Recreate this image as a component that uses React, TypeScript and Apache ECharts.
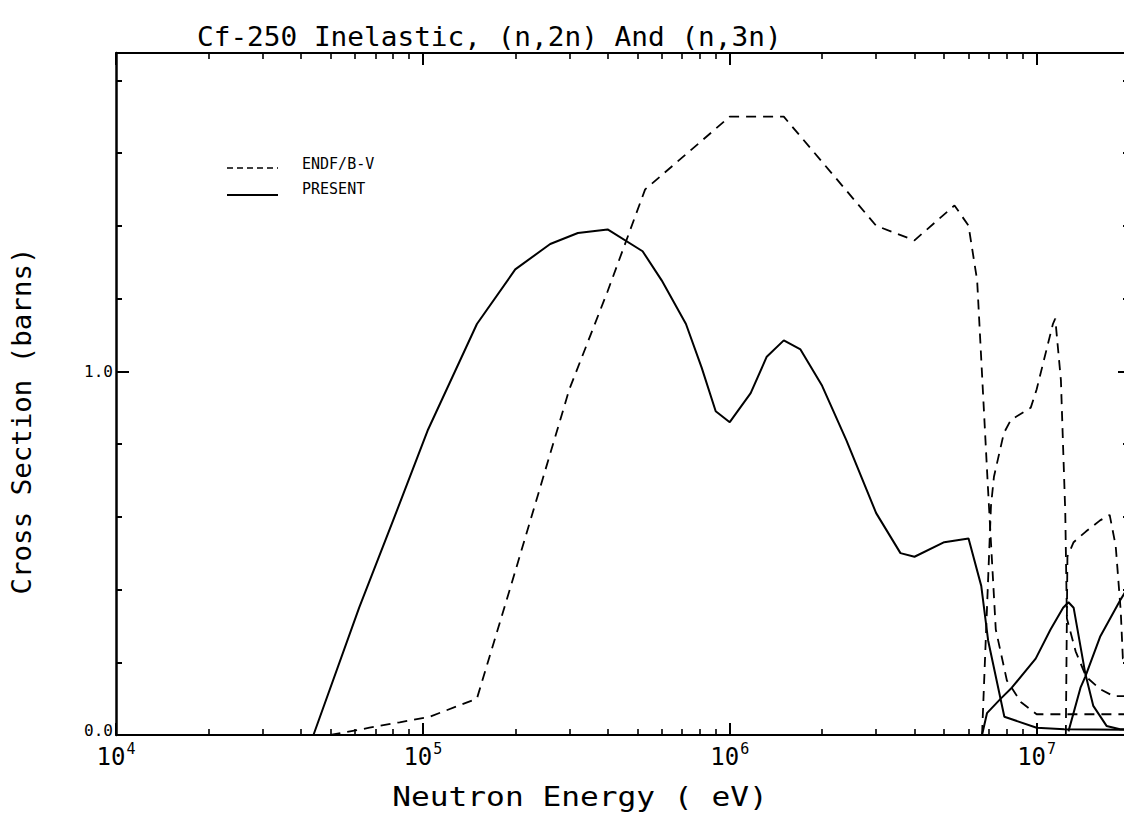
import React, { useEffect, useRef } from "react";
import * as echarts from "echarts";

// ---------- data (energy in eV, cross section in barns) ----------
const inelEndfE = [5.0e4, 6.7e4, 8.4e4, 1.05e5, 1.5e5, 2.0e5, 3.0e5, 4.0e5, 5.3e5, 1.0e6, 1.5e6, 3.0e6, 4.0e6, 5.4e6, 6.0e6, 6.4e6, 6.93e6, 7.36e6, 8.0e6, 8.9e6, 1.0e7, 2.0e7];
const inelEndfV = [0.0, 0.02, 0.035, 0.05, 0.10, 0.45, 0.95, 1.22, 1.50, 1.70, 1.70, 1.40, 1.36, 1.456, 1.40, 1.25, 0.69, 0.29, 0.15, 0.09, 0.057, 0.057];

const inelPresE = [4.4e4, 6.2e4, 8.0e4, 1.04e5, 1.5e5, 2.0e5, 2.6e5, 3.2e5, 4.0e5, 5.2e5, 6.0e5, 7.2e5, 8.1e5, 9.0e5, 1.0e6, 1.17e6, 1.32e6, 1.5e6, 1.7e6, 2.0e6, 2.4e6, 3.0e6, 3.6e6, 4.0e6, 5.0e6, 6.0e6, 6.6e6, 6.95e6, 7.85e6, 1.0e7, 1.23e7, 2.0e7];
const inelPresV = [0.0, 0.35, 0.59, 0.84, 1.13, 1.28, 1.35, 1.38, 1.39, 1.33, 1.25, 1.13, 1.01, 0.89, 0.86, 0.94, 1.04, 1.085, 1.06, 0.96, 0.81, 0.61, 0.50, 0.49, 0.53, 0.54, 0.41, 0.26, 0.05, 0.02, 0.016, 0.014];

const n2nEndfE = [6.64e6, 7.1e6, 7.26e6, 7.82e6, 8.24e6, 9.57e6, 1.0e7, 1.13e7, 1.15e7, 1.2e7, 1.22e7, 1.24e7, 1.255e7, 1.34e7, 1.45e7, 1.61e7, 1.78e7, 2.0e7];
const n2nEndfV = [0.0, 0.63, 0.71, 0.83, 0.866, 0.90, 0.95, 1.13, 1.145, 0.975, 0.79, 0.61, 0.32, 0.23, 0.16, 0.126, 0.107, 0.107];

const n2nPresE = [6.64e6, 6.89e6, 7.64e6, 8.3e6, 9.93e6, 1.11e7, 1.22e7, 1.27e7, 1.32e7, 1.44e7, 1.53e7, 1.69e7, 1.87e7, 2.0e7];
const n2nPresV = [0.0, 0.06, 0.10, 0.13, 0.21, 0.29, 0.35, 0.365, 0.35, 0.17, 0.08, 0.025, 0.016, 0.015];

const n3nEndfE = [1.245e7, 1.26e7, 1.32e7, 1.45e7, 1.61e7, 1.73e7, 1.81e7, 1.88e7, 1.91e7, 2.0e7];
const n3nEndfV = [0.0, 0.49, 0.53, 0.56, 0.59, 0.605, 0.52, 0.34, 0.21, 0.20];

const n3nPresE = [1.27e7, 1.39e7, 1.44e7, 1.61e7, 1.87e7, 2.0e7];
const n3nPresV = [0.01, 0.13, 0.16, 0.27, 0.37, 0.41];

// ---------- axis settings ----------
const X_MIN = 1e4;
const X_MAX = 2e7;
const Y_MAX = 1.875;
const Y_MINOR_STEP = 0.2;
const Y_MAJOR_STEP = 1.0;
const yLabelValues = [0, 1.0];

const TITLE = "Cf-250 Inelastic, (n,2n) And (n,3n)";
const X_TITLE = "Neutron Energy ( eV)";
const Y_TITLE = "Cross Section (barns)";
const LEGEND_ENDF = "ENDF/B-V";
const LEGEND_PRES = "PRESENT";

const MONO = "'DejaVu Sans Mono', monospace";
const TICK_COLOR = "#000";

function pairs(e: number[], v: number[]) {
  return e.map((x, i) => [x, v[i]]);
}

function isPow10(v: number) {
  const l = Math.log10(v);
  return Math.abs(l - Math.round(l)) < 1e-6;
}

export default function App() {
  const ref = useRef<HTMLDivElement>(null);
  useEffect(() => {
    if (!ref.current) return;
    const chart = echarts.init(ref.current, undefined, { renderer: "svg" });

    const logAxis = (pos: "top" | "bottom", labels: boolean) => ({
      type: "log",
      position: pos,
      min: X_MIN,
      max: X_MAX,
      splitLine: { show: false },
      axisLine: { show: true, onZero: false, lineStyle: { color: "#000", width: 2 } },
      axisTick: { show: true, inside: true, length: 12, lineStyle: { color: TICK_COLOR, width: 2 } },
      minorTick: { show: true, splitNumber: 9, length: 6, lineStyle: { color: TICK_COLOR, width: 1.6 } },
      axisLabel: labels
        ? {
            show: true,
            margin: 6,
            color: "#000",
            formatter: (v: number) =>
              isPow10(v) ? `{b|10}{s|${Math.round(Math.log10(v))}}` : "",
            rich: {
              b: { fontSize: 24, fontFamily: MONO, color: "#000" },
              s: { fontSize: 15, fontFamily: MONO, color: "#000", padding: [0, 0, 16, 1] },
            },
          }
        : { show: false },
    });

    const valAxis = (
      pos: "left" | "right",
      step: number,
      len: number,
      line: boolean,
      labels: boolean
    ) => ({
      type: "value",
      position: pos,
      min: 0,
      max: Y_MAX,
      interval: step,
      splitLine: { show: false },
      axisLine: { show: line, onZero: false, lineStyle: { color: "#000", width: 2.5 } },
      axisTick: { show: true, inside: true, length: len, lineStyle: { color: TICK_COLOR, width: 2 } },
      axisLabel: labels
        ? {
            show: true,
            margin: 3,
            color: "#000",
            fontSize: 16,
            fontFamily: MONO,
            formatter: (v: number) => {
              const hit = yLabelValues.find((t) => Math.abs(t - v) < 1e-9);
              if (hit === undefined) return "";
              return hit === 0 ? `{z|${hit.toFixed(1)}}` : hit.toFixed(1);
            },
            rich: {
              z: { fontSize: 16, fontFamily: MONO, color: "#000", padding: [0, 0, 10, 0] },
            },
          }
        : { show: false },
    });

    const dashed = { color: "#000", width: 1.8, type: [10, 7] };
    const solid = { color: "#000", width: 2, type: "solid" };

    const mkSeries = (name: string, e: number[], v: number[], style: any) => ({
      type: "line",
      name,
      data: pairs(e, v),
      showSymbol: false,
      symbol: "none",
      lineStyle: style,
      itemStyle: { color: "#000" },
      xAxisIndex: 0,
      yAxisIndex: 0,
    });

    chart.setOption({
      animation: false,
      backgroundColor: "#fff",
      grid: { left: 116, top: 53, width: 1020, height: 682, containLabel: false },
      xAxis: [logAxis("bottom", true), logAxis("top", false)],
      yAxis: [
        valAxis("left", Y_MINOR_STEP, 6, true, true),
        valAxis("left", Y_MAJOR_STEP, 13, false, false),
        valAxis("right", Y_MINOR_STEP, 6, true, false),
        valAxis("right", Y_MAJOR_STEP, 11, false, false),
      ],
      graphic: [
        {
          type: "text",
          x: 197,
          y: 37,
          scaleX: 1.068,
          style: {
            text: TITLE,
            font: `26px ${MONO}`,
            fill: "#000",
            textAlign: "left",
            textVerticalAlign: "middle",
          },
        },
        {
          type: "text",
          x: 580,
          y: 797,
          scaleX: 1.2,
          style: {
            text: X_TITLE,
            font: `26px ${MONO}`,
            fill: "#000",
            textAlign: "center",
            textVerticalAlign: "middle",
          },
        },
        {
          type: "text",
          x: 22,
          y: 421,
          rotation: Math.PI / 2,
          scaleX: 1.056,
          style: {
            text: Y_TITLE,
            font: `26px ${MONO}`,
            fill: "#000",
            textAlign: "center",
            textVerticalAlign: "middle",
          },
        },
        {
          type: "line",
          shape: { x1: 227, y1: 168, x2: 278, y2: 168 },
          style: { stroke: "#000", lineWidth: 1.6, lineDash: [6, 4] },
        },
        {
          type: "text",
          x: 302,
          y: 164,
          style: {
            text: LEGEND_ENDF,
            font: `15px ${MONO}`,
            fill: "#000",
            textAlign: "left",
            textVerticalAlign: "middle",
          },
        },
        {
          type: "line",
          shape: { x1: 227, y1: 195, x2: 278, y2: 195 },
          style: { stroke: "#000", lineWidth: 2 },
        },
        {
          type: "text",
          x: 302,
          y: 189,
          style: {
            text: LEGEND_PRES,
            font: `15px ${MONO}`,
            fill: "#000",
            textAlign: "left",
            textVerticalAlign: "middle",
          },
        },
      ],
      series: [
        mkSeries(LEGEND_ENDF, inelEndfE, inelEndfV, dashed),
        mkSeries(LEGEND_PRES, inelPresE, inelPresV, solid),
        mkSeries(LEGEND_ENDF, n2nEndfE, n2nEndfV, dashed),
        mkSeries(LEGEND_PRES, n2nPresE, n2nPresV, solid),
        mkSeries(LEGEND_ENDF, n3nEndfE, n3nEndfV, dashed),
        mkSeries(LEGEND_PRES, n3nPresE, n3nPresV, solid),
      ],
    });
    return () => chart.dispose();
  }, []);
  return <div ref={ref} style={{ width: 1132, height: 820, margin: -8 }} />;
}
